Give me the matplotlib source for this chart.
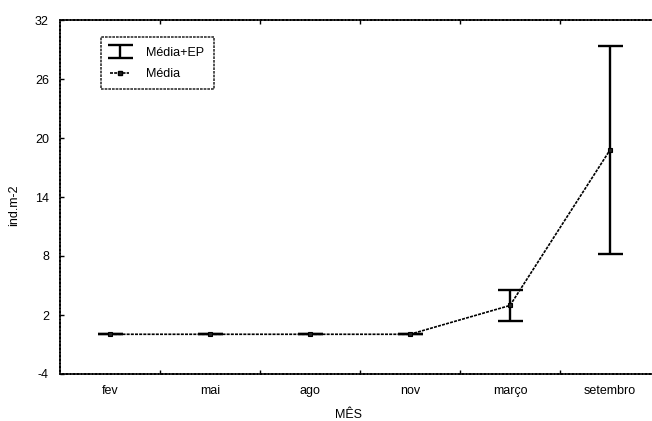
import matplotlib
matplotlib.use("Agg")
import matplotlib.pyplot as plt
from matplotlib.lines import Line2D
import numpy

meses = ["fev", "mai", "ago", "nov", "março", "setembro"]
media = [0.04, 0.04, 0.04, 0.04, 2.97, 18.78]
erro_padrao = [0.0, 0.0, 0.0, 0.0, 1.56, 10.58]
y_ticks = [-4, 2, 8, 14, 20, 26, 32]

plt.rcParams['font.family'] = ['Liberation Sans', 'DejaVu Sans']
plt.rcParams['axes.unicode_minus'] = False

fig = plt.figure(figsize=(6.52, 4.21), dpi=100)
# axes run a little past the right edge of the figure
ax = fig.add_axes([60 / 652, 47 / 421, 600 / 652, 354 / 421])

x = numpy.arange(len(meses))
eb = ax.errorbar(x, media, yerr=erro_padrao, fmt='none', ecolor='black',
                 elinewidth=1.7, capsize=9, capthick=1.7, zorder=2)
ln, = ax.plot(x, media, color='black', linestyle=(0, (1.8, 0.7)), lw=1.2,
              marker='s', markersize=3.5, markerfacecolor='#222222',
              markeredgecolor='black', markeredgewidth=0.8, zorder=3)

ax.set_xlim(-0.5, 5.5)
ax.set_ylim(-4, 32)
ax.set_yticks(y_ticks)
ax.set_xticks(x)
ax.set_xticklabels(meses, fontsize=9)
ax.set_xticks(x[:-1] + 0.5, minor=True)
ax.tick_params(axis='x', which='major', length=0, pad=8)
ax.tick_params(axis='x', which='minor', direction='in', length=3, top=True, width=1)
ax.tick_params(axis='y', direction='in', length=3, labelsize=9, pad=8, width=1)

for s in ax.spines.values():
    s.set_linestyle((0, (1.6, 0.6)))
    s.set_linewidth(1.2)

ax.set_ylabel("ind.m-2", fontsize=9)
ax.yaxis.set_label_coords(-0.067, 0.477)
ax.set_xlabel("MÊS", fontsize=9)
ax.xaxis.set_label_coords(0.48, -0.1)

h_line = Line2D([], [], color='black', linestyle=(0, (1.8, 0.7)), lw=1.2,
                marker='s', markersize=3.5, markerfacecolor='#222222',
                markeredgecolor='black')
leg = ax.legend([eb, h_line], ["Média+EP", "Média"], loc='upper left',
                bbox_to_anchor=(0.068, 0.951), fontsize=9, frameon=True,
                fancybox=False, edgecolor='black', handlelength=1.5,
                borderpad=0.75, labelspacing=0.75, handletextpad=1.4,
                borderaxespad=0)
leg.get_frame().set_linestyle((0, (1.6, 0.6)))
leg.get_frame().set_linewidth(1.2)

fig.savefig("out.png", dpi=100)
